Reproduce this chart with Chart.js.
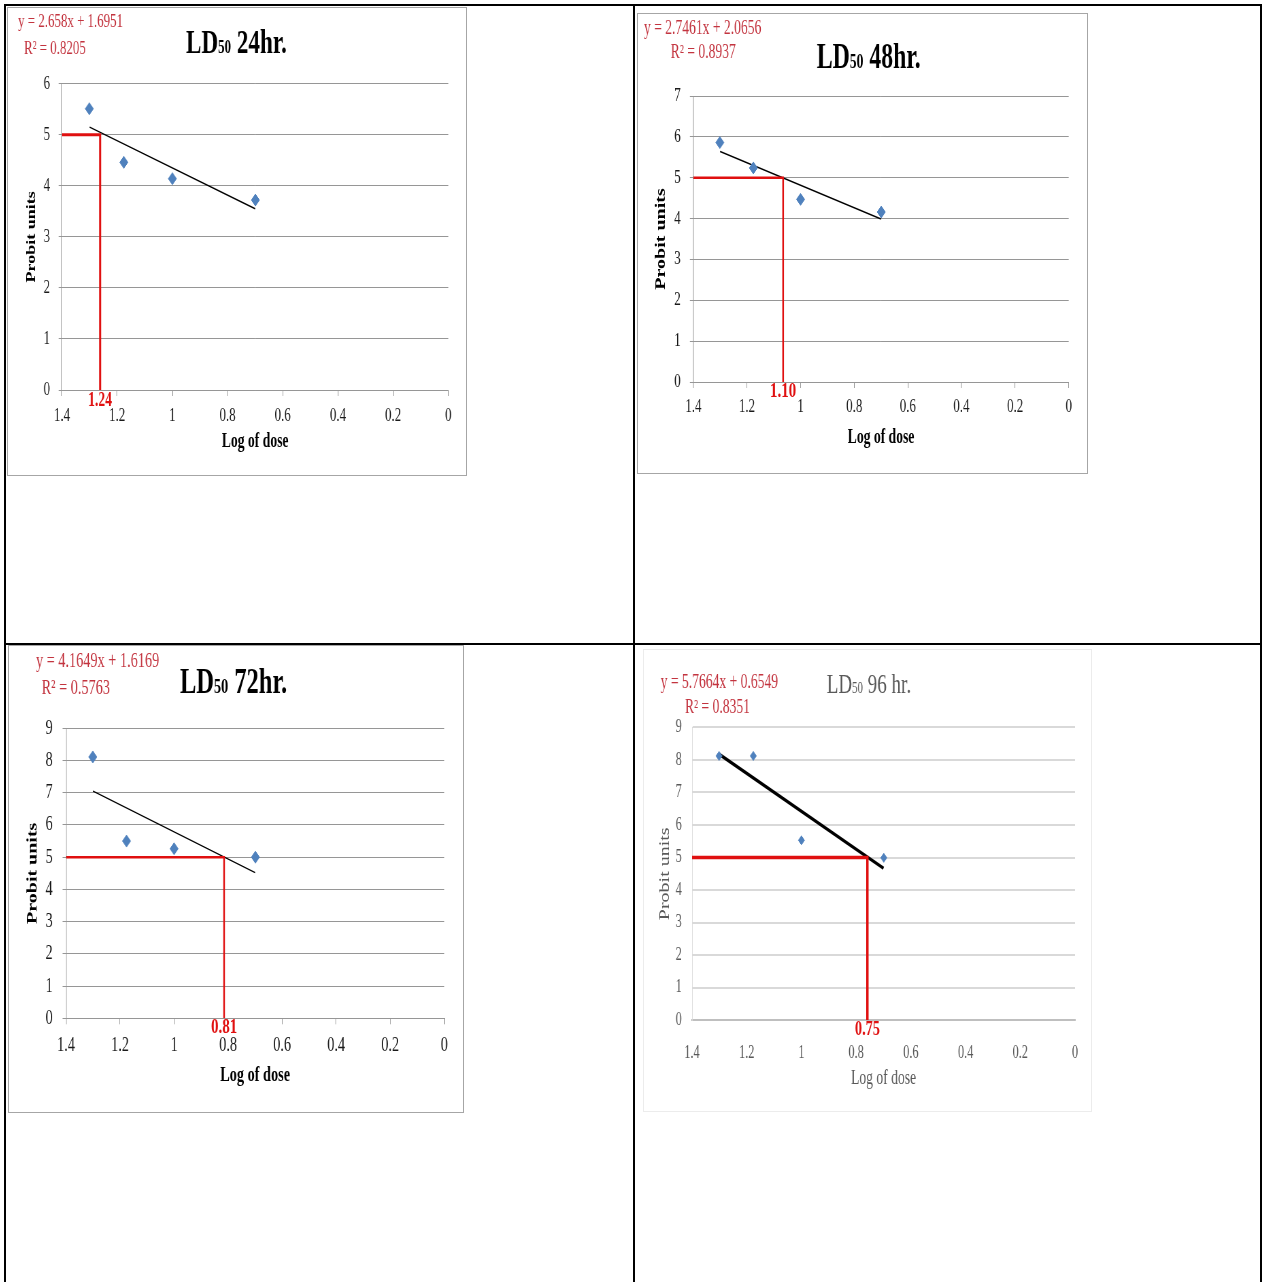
<!DOCTYPE html>
<html>
<head>
<meta charset="utf-8">
<title>LD50 probit plots</title>
<script src="https://cdn.jsdelivr.net/npm/chart.js@4.4.0/dist/chart.umd.min.js"></script>
<style>
  body { margin: 0; background: #fff; }
  #page { position: relative; width: 1262px; height: 1282px; overflow: hidden; background: #fff; }
  .rule { position: absolute; background: #000; }
  .box { position: absolute; box-sizing: border-box; background: #fff; overflow: hidden; border: 1px solid #a6a6a6; }
  .box canvas { position: absolute; left: -1px; top: -1px; transform-origin: 0 0; }
</style>
</head>
<body>
<div id="page">
  <div class="rule" style="left:4px;top:4px;width:1258px;height:2px"></div>
  <div class="rule" style="left:4px;top:643px;width:1258px;height:2px"></div>
  <div class="rule" style="left:4px;top:4px;width:2px;height:1278px"></div>
  <div class="rule" style="left:633px;top:4px;width:2px;height:1278px"></div>
  <div class="rule" style="left:1260px;top:4px;width:2px;height:1278px"></div>
</div>
<script>
// data
const logDose = [1.301, 1.176, 1.0, 0.699];
const probit24 = [5.51, 4.46, 4.14, 3.72];
const probit48 = [5.86, 5.24, 4.47, 4.16];
const probit72 = [8.11, 5.50, 5.26, 5.00];
const probit96 = [8.12, 8.12, 5.53, 4.99];

// trendline end points (x = 1.3 .. 0.7)
const trendX = [1.3, 0.7];
const trend24 = [5.15, 3.55];
const trend48 = [5.64, 3.99];
const trend72 = [7.05, 4.52];
const trend96 = [8.17, 4.67];

const ld50X = [1.262, 1.065, 0.815, 0.759];
const ld50Labels = ['1.24', '1.10', '0.81', '0.75'];
const probitCut = 5;

const titles = ['24hr.', '48hr.', '72hr.', '96 hr.'];
const equations = ['y = 2.658x + 1.6951', 'y = 2.7461x + 2.0656', 'y = 4.1649x + 1.6169', 'y = 5.7664x + 0.6549'];
const rSquared = ['R\u00B2 = 0.8205', 'R\u00B2 = 0.8937', 'R\u00B2 = 0.5763', 'R\u00B2 = 0.8351'];
const yMaxes = [6, 7, 9, 9];
const xTickStep = 0.2;

const serif = "'Liberation Serif', 'Times New Roman', serif";
Chart.defaults.font.family = serif;
Chart.defaults.animation = false;

// page positions (screen px) and looks for each panel
const panelLayout = [
  { box: { x: 7, y: 7, w: 460, h: 469 }, plot: { l: 62, r: 448.3, t: 83.7, b: 390 },
    yTickRight: 50, xTickMid: 416, yTitleX: 32, xTitleY: 441.7,
    tickSize: 19, tickColor: '#1a1a1a', tickMarks: true,
    gridColor: '#969696', gridWidth: 1, xAxisColor: '#969696', xAxisWidth: 1, yAxisColor: '#969696',
    axisTitleColor: '#000', axisTitleWeight: 'bold', yTitleSize: 18, xTitleSize: 20,
    titleX: 186, titleY: 52.7, titleSize: 34, titleWeight: 'bold', titleColor: '#000',
    eqX: 18, eqY: 27, r2X: 24, r2Y: 54, eqSize: 19,
    ldY: 406, ldSize: 20, pointRadius: 6, trendWidth: 1.5, redWidth: 3, border: '#a6a6a6' },
  { box: { x: 637, y: 13, w: 451, h: 461 }, plot: { l: 693.3, r: 1068.7, t: 96, b: 382 },
    yTickRight: 680.7, xTickMid: 407.5, yTitleX: 661.7, xTitleY: 438.3,
    tickSize: 19, tickColor: '#1a1a1a', tickMarks: true,
    gridColor: '#969696', gridWidth: 1, xAxisColor: '#969696', xAxisWidth: 1, yAxisColor: '#969696',
    axisTitleColor: '#000', axisTitleWeight: 'bold', yTitleSize: 20, xTitleSize: 20,
    titleX: 816.7, titleY: 68.3, titleSize: 35, titleWeight: 'bold', titleColor: '#000',
    eqX: 644, eqY: 34.3, r2X: 670.7, r2Y: 58.3, eqSize: 20,
    ldY: 397, ldSize: 22, pointRadius: 6, trendWidth: 1.5, redWidth: 2.5, border: '#a6a6a6' },
  { box: { x: 8, y: 645, w: 456, h: 468 }, plot: { l: 66, r: 444.3, t: 728.3, b: 1018.3 },
    yTickRight: 52.7, xTickMid: 1045, yTitleX: 33.3, xTitleY: 1075.8,
    tickSize: 21, tickColor: '#1a1a1a', tickMarks: true,
    gridColor: '#969696', gridWidth: 1, xAxisColor: '#969696', xAxisWidth: 1, yAxisColor: '#969696',
    axisTitleColor: '#000', axisTitleWeight: 'bold', yTitleSize: 20, xTitleSize: 21,
    titleX: 180, titleY: 693.3, titleSize: 36, titleWeight: 'bold', titleColor: '#000',
    eqX: 36, eqY: 666.7, r2X: 41.7, r2Y: 694.3, eqSize: 21,
    ldY: 1033.3, ldSize: 22, pointRadius: 6, trendWidth: 1.5, redWidth: 2.5, border: '#a6a6a6' },
  { box: { x: 643, y: 649, w: 449, h: 463 }, plot: { l: 692, r: 1075, t: 727.3, b: 1020.3 },
    yTickRight: 681.7, xTickMid: 1047.2, yTitleX: 665, xTitleY: 1078.8,
    tickSize: 18, tickColor: '#595959', tickMarks: false,
    gridColor: '#d9d9d9', gridWidth: 2, xAxisColor: '#bfbfbf', xAxisWidth: 2, yAxisColor: '#d9d9d9',
    axisTitleColor: '#595959', axisTitleWeight: 'normal', yTitleSize: 20, xTitleSize: 20,
    titleX: 826.7, titleY: 693.3, titleSize: 28, titleWeight: 'normal', titleColor: '#595959',
    eqX: 660.7, eqY: 688.3, r2X: 685, r2Y: 712.7, eqSize: 20,
    ldY: 1035, ldSize: 21, pointRadius: 4.5, trendWidth: 3.5, redWidth: 3.5, border: '#ececec' }
];

const probitSeries = [probit24, probit48, probit72, probit96];
const trendSeries = [trend24, trend48, trend72, trend96];

const squeeze = 0.68; // the source charts were squashed sideways
const eqColor = '#c3343f';
const red = '#e01010';
const blue = '#4f81bd';

function makePanel(i) {
  const lay = panelLayout[i];
  const W = Math.round(lay.box.w / squeeze);
  const H = lay.box.h;
  const sx = lay.box.w / W;
  const ix = X => (X - lay.box.x) / sx;
  const iy = Y => Y - lay.box.y;

  const L = ix(lay.plot.l), R = ix(lay.plot.r), T = iy(lay.plot.t), B = iy(lay.plot.b);
  const tl = lay.tickMarks ? 5 : 0;
  const txl = lay.tickMarks ? 6 : 0;

  const box = document.createElement('div');
  box.className = 'box';
  box.style.left = lay.box.x + 'px';
  box.style.top = lay.box.y + 'px';
  box.style.width = lay.box.w + 'px';
  box.style.height = lay.box.h + 'px';
  box.style.borderColor = lay.border;
  const canvas = document.createElement('canvas');
  canvas.width = W;
  canvas.height = H;
  canvas.style.transform = `scaleX(${sx})`;
  box.appendChild(canvas);
  document.getElementById('page').appendChild(box);

  const textPlugin = {
    id: 'panelText' + i,
    afterDraw(chart) {
      const ctx = chart.ctx;
      ctx.save();
      ctx.textBaseline = 'alphabetic';
      ctx.textAlign = 'left';
      // title with small "50"
      const big = `${lay.titleWeight} ${lay.titleSize}px ${serif}`;
      const small = `${lay.titleWeight} ${Math.round(lay.titleSize * 0.57)}px ${serif}`;
      let x = ix(lay.titleX);
      const y = iy(lay.titleY);
      ctx.fillStyle = lay.titleColor;
      ctx.font = big; ctx.fillText('LD', x, y); x += ctx.measureText('LD').width;
      ctx.font = small; ctx.fillText('50', x, y); x += ctx.measureText('50').width;
      ctx.font = big; ctx.fillText(' ' + titles[i], x, y);
      // trendline equation
      ctx.fillStyle = eqColor;
      ctx.font = `${lay.eqSize}px ${serif}`;
      ctx.fillText(equations[i], ix(lay.eqX), iy(lay.eqY));
      ctx.fillText(rSquared[i], ix(lay.r2X), iy(lay.r2Y));
      // LD50 value under the drop line
      ctx.fillStyle = red;
      ctx.textAlign = 'center';
      ctx.font = `bold ${lay.ldSize}px ${serif}`;
      ctx.fillText(ld50Labels[i], chart.scales.x.getPixelForValue(ld50X[i]), iy(lay.ldY));
      ctx.restore();
    }
  };

  new Chart(canvas, {
    type: 'scatter',
    data: {
      datasets: [
        {
          data: logDose.map((d, k) => ({ x: d, y: probitSeries[i][k] })),
          pointStyle: 'rectRot', pointRadius: lay.pointRadius,
          backgroundColor: blue, borderColor: blue, borderWidth: 1, order: 0
        },
        {
          data: trendX.map((d, k) => ({ x: d, y: trendSeries[i][k] })),
          showLine: true, pointRadius: 0, borderColor: '#000', borderWidth: lay.trendWidth, order: 2
        },
        {
          data: [{ x: 1.4, y: probitCut }, { x: ld50X[i], y: probitCut }, { x: ld50X[i], y: 0 }],
          showLine: true, pointRadius: 0, borderColor: red, borderWidth: lay.redWidth, order: 1
        }
      ]
    },
    options: {
      responsive: false,
      devicePixelRatio: 1,
      layout: { padding: { left: 0, top: T, right: W - R, bottom: 0 } },
      plugins: { legend: { display: false }, tooltip: { enabled: false } },
      scales: {
        x: {
          type: 'linear', reverse: true, min: 0, max: 1.4,
          ticks: {
            stepSize: xTickStep, color: lay.tickColor, font: { size: lay.tickSize },
            padding: iy(lay.xTickMid) - B - txl - 0.6 * lay.tickSize, maxRotation: 0, autoSkip: false,
            callback: v => String(Math.round(v * 10) / 10)
          },
          grid: { display: lay.tickMarks, drawOnChartArea: false, drawTicks: true, tickLength: 6, color: lay.xAxisColor },
          border: { display: true, color: lay.xAxisColor, width: lay.xAxisWidth },
          title: {
            display: true, text: 'Log of dose', color: lay.axisTitleColor,
            font: { size: lay.xTitleSize, weight: lay.axisTitleWeight },
            padding: { top: 0, bottom: H - iy(lay.xTitleY) - 0.6 * lay.xTitleSize }
          },
          afterFit: s => { s.height = H - B; }
        },
        y: {
          min: 0, max: yMaxes[i],
          ticks: {
            stepSize: 1, color: lay.tickColor, font: { size: lay.tickSize },
            padding: L - ix(lay.yTickRight) - tl
          },
          grid: { color: lay.gridColor, lineWidth: lay.gridWidth, drawTicks: lay.tickMarks, tickLength: 5 },
          border: { display: true, color: lay.yAxisColor, width: 1 },
          title: {
            display: true, text: 'Probit units', color: lay.axisTitleColor,
            font: { size: lay.yTitleSize, weight: lay.axisTitleWeight },
            padding: { top: ix(lay.yTitleX) - 0.6 * lay.yTitleSize, bottom: 0 }
          },
          afterFit: s => { s.width = L; }
        }
      }
    },
    plugins: [textPlugin]
  });
}

for (let i = 0; i < 4; i++) makePanel(i);
</script>
</body>
</html>
